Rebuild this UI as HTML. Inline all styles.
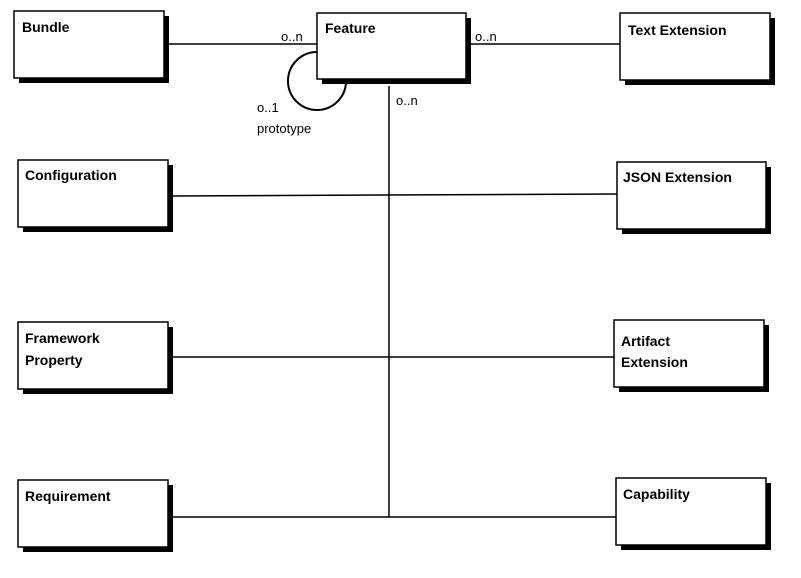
<!DOCTYPE html>
<html><head><style>
html,body{margin:0;padding:0;background:#fff;}
svg text{font-family:"Liberation Sans",sans-serif;}
.b{font-weight:bold;font-size:14px;}
.l{font-size:13px;}
</style></head><body>
<svg width="801" height="573" viewBox="0 0 801 573" xmlns="http://www.w3.org/2000/svg">
<g stroke="#000" stroke-width="1.5" fill="none">
<line x1="168" y1="44" x2="317" y2="44"/>
<line x1="465" y1="44" x2="620" y2="44"/>
<line x1="389" y1="86" x2="389" y2="517"/>
<line x1="168" y1="196" x2="617" y2="194"/>
<line x1="168" y1="357" x2="614" y2="357"/>
<line x1="168" y1="517" x2="616" y2="517"/>
<circle cx="317" cy="81" r="29" stroke-width="2"/>
</g>
<g>
<rect x="19" y="16" width="150" height="67" fill="#000"/><rect x="14" y="11" width="150" height="67" fill="#fff" stroke="#000" stroke-width="1.5"/>
<rect x="322" y="18" width="149" height="66" fill="#000"/><rect x="317" y="13" width="149" height="66" fill="#fff" stroke="#000" stroke-width="1.5"/>
<rect x="625" y="18" width="150" height="67" fill="#000"/><rect x="620" y="13" width="150" height="67" fill="#fff" stroke="#000" stroke-width="1.5"/>
<rect x="23" y="165" width="150" height="67" fill="#000"/><rect x="18" y="160" width="150" height="67" fill="#fff" stroke="#000" stroke-width="1.5"/>
<rect x="622" y="167" width="149" height="67" fill="#000"/><rect x="617" y="162" width="149" height="67" fill="#fff" stroke="#000" stroke-width="1.5"/>
<rect x="23" y="327" width="150" height="67" fill="#000"/><rect x="18" y="322" width="150" height="67" fill="#fff" stroke="#000" stroke-width="1.5"/>
<rect x="619" y="325" width="150" height="67" fill="#000"/><rect x="614" y="320" width="150" height="67" fill="#fff" stroke="#000" stroke-width="1.5"/>
<rect x="23" y="485" width="150" height="67" fill="#000"/><rect x="18" y="480" width="150" height="67" fill="#fff" stroke="#000" stroke-width="1.5"/>
<rect x="621" y="483" width="150" height="67" fill="#000"/><rect x="616" y="478" width="150" height="67" fill="#fff" stroke="#000" stroke-width="1.5"/>
</g>
<g class="b" fill="#000">
<text x="22" y="32">Bundle</text>
<text x="325" y="33">Feature</text>
<text x="628" y="35">Text Extension</text>
<text x="25" y="180">Configuration</text>
<text x="623" y="182">JSON Extension</text>
<text x="25" y="343">Framework</text>
<text x="25" y="365">Property</text>
<text x="621" y="346">Artifact</text>
<text x="621" y="367">Extension</text>
<text x="25" y="501">Requirement</text>
<text x="623" y="499">Capability</text>
</g>
<g class="l" fill="#000">
<text x="281" y="41">o..n</text>
<text x="475" y="41">o..n</text>
<text x="396" y="105">o..n</text>
<text x="257" y="112">o..1</text>
<text x="257" y="133">prototype</text>
</g>
</svg>
</body></html>
